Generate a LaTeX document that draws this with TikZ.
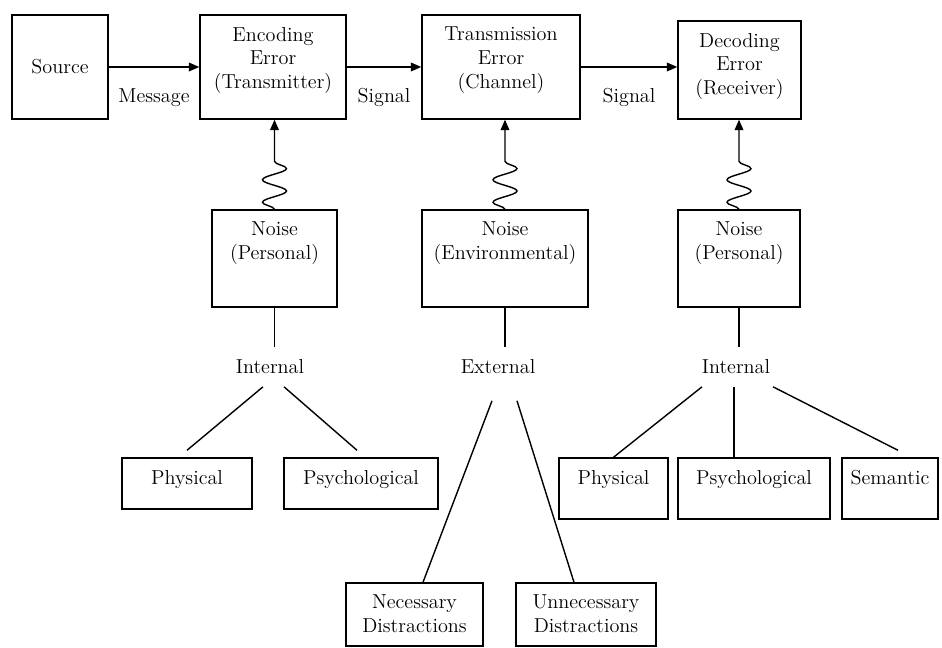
\documentclass[tikz,border=0pt]{standalone}
\usetikzlibrary{arrows.meta,decorations.pathmorphing}
\tikzstyle{arrow} = [-{Triangle[length=6pt,width=5pt]}]
\tikzstyle{box} = [draw,rectangle,inner sep=0pt]
\tikzstyle{intext} = [align=center,anchor=north,inner sep=0.24cm]
\tikzstyle{branch} = [inner sep=0.24cm]
\tikzstyle{squiggle} = [decoration={snake,amplitude=0.24cm,segment length=0.45cm}]

\begin{document}
\begin{tikzpicture}[font=\fontsize{11.5}{13.5}\selectfont, line width=0.8pt]
          \useasboundingbox (0,0) rectangle (18.84,12.96);

          % top row
          \node[box,minimum width=1.92cm,minimum height=2.08cm] (src) at (1.20,11.62) {Source};
          \node[box,minimum width=2.92cm,minimum height=2.08cm,label={[intext]north:Encoding\\Error\\(Transmitter)}] (enc) at (5.46,11.62) {};
          \node[box,minimum width=3.16cm,minimum height=2.08cm,label={[intext]north:Transmission\\Error\\(Channel)}] (trn) at (10.02,11.62) {};
          \node[box,minimum width=2.46cm,minimum height=1.96cm,label={[intext]north:Decoding\\Error\\(Receiver)}] (dec) at (14.79,11.56) {};

          % noise boxes
          \node[box,minimum width=2.50cm,minimum height=1.94cm,label={[intext]north:Noise\\(Personal)}] (np1) at (5.49,7.79) {};
          \node[box,minimum width=3.32cm,minimum height=1.94cm,label={[intext]north:Noise\\(Environmental)}] (nenv) at (10.10,7.79) {};
          \node[box,minimum width=2.44cm,minimum height=1.94cm,label={[intext]north:Noise\\(Personal)}] (np2) at (14.78,7.79) {};

          \node[branch] (int1) at (5.40,5.62) {Internal};
          \node[branch] (ext) at (9.96,5.62) {External};
          \node[branch] (int2) at (14.72,5.62) {Internal};

          % kinds of noise
          \node[box,minimum width=2.60cm,minimum height=1.02cm,label={[intext]north:Physical}] (phys1) at (3.74,3.29) {};
          \node[box,minimum width=3.08cm,minimum height=1.02cm,label={[intext]north:Psychological}] (psy1) at (7.22,3.29) {};
          \node[box,minimum width=2.74cm,minimum height=1.26cm,label={[intext]north:Necessary\\Distractions}] (nec) at (8.29,0.67) {};
          \node[box,minimum width=2.80cm,minimum height=1.26cm,label={[intext]north:Unnecessary\\Distractions}] (unn) at (11.72,0.67) {};
          \node[box,minimum width=2.18cm,minimum height=1.22cm,label={[intext]north:Physical}] (phys2) at (12.27,3.19) {};
          \node[box,minimum width=3.04cm,minimum height=1.22cm,label={[intext]north:Psychological}] (psy2) at (15.08,3.19) {};
          \node[box,minimum width=1.92cm,minimum height=1.22cm,label={[intext]north:Semantic}] (sem) at (17.80,3.19) {};

          \draw[arrow] (src) -- node[below=0.3cm] {Message} (enc);
          \draw[arrow] (enc) -- node[below=0.3cm] {Signal} (trn);
          \draw[arrow] (trn.east) -- node[below=0.3cm] {Signal} (trn.east -| dec.west);

          \draw[arrow] (np1.north) decorate[squiggle] {-- ++(0,0.96)} -- (np1.north |- enc.south);
          \draw[arrow] (nenv.north) decorate[squiggle] {-- ++(0,0.96)} -- (nenv.north |- trn.south);
          \draw[arrow] (np2.north) decorate[squiggle] {-- ++(0,0.96)} -- (np2.north |- dec.south);

          \draw (np1.south) -- (np1.south |- int1.north);
          \draw (nenv.south) -- (nenv.south |- ext.north);
          \draw (np2.south) -- (np2.south |- int2.north);

          \draw ([xshift=-0.14cm]int1.south) -- ([yshift=0.14cm]phys1.north);
          \draw ([xshift=0.28cm]int1.south) -- ([xshift=-0.08cm,yshift=0.14cm]psy1.north);
          \draw ([xshift=-0.12cm,yshift=-0.28cm]ext.south) -- ([xshift=0.17cm]nec.north);
          \draw ([xshift=0.38cm,yshift=-0.28cm]ext.south) -- ([xshift=-0.24cm]unn.north);
          \draw ([xshift=-0.68cm]int2.south) -- (phys2.north);
          \draw ([xshift=-0.04cm]int2.south) -- ([xshift=-0.04cm]int2.south |- psy2.north);
          \draw ([xshift=0.74cm]int2.south) -- ([xshift=0.16cm,yshift=0.14cm]sem.north);
        \end{tikzpicture}
\end{document}
